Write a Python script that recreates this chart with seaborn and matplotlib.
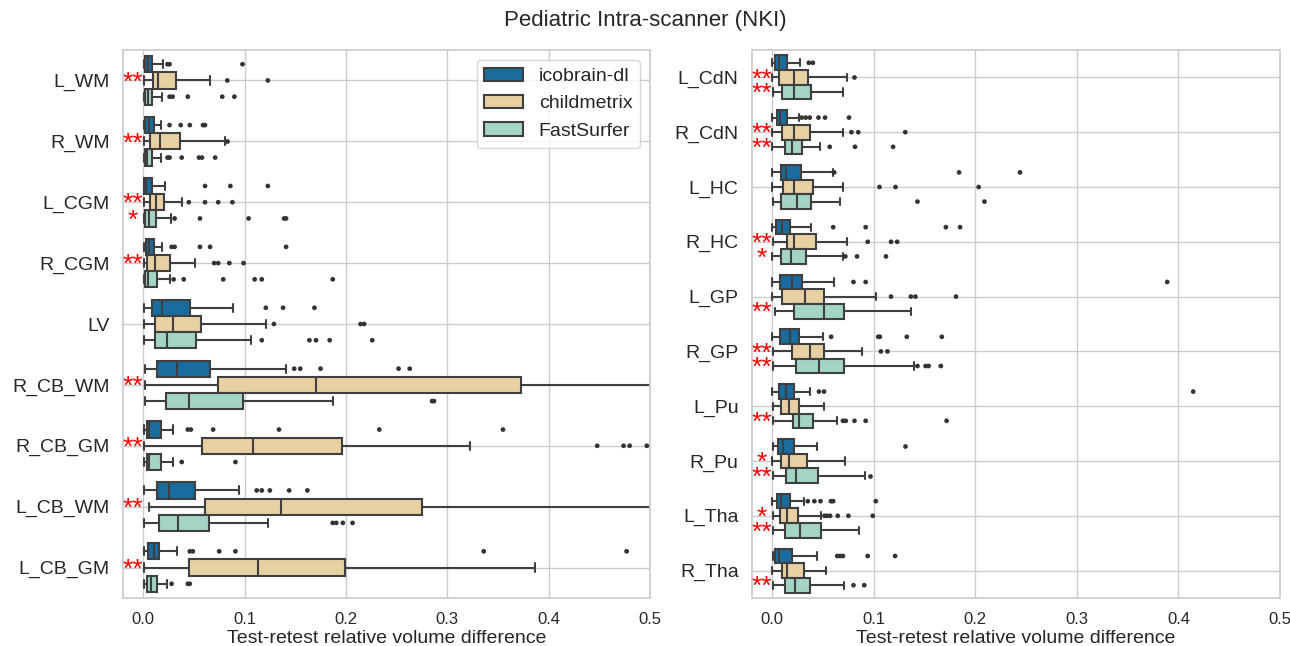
import numpy as np
import pandas as pd
import matplotlib
matplotlib.use("Agg")
import matplotlib.pyplot as plt
import seaborn as sns

# ---- data (lo whisker, q1, median, q3, hi whisker) ----
METHODS = ["icobrain-dl", "childmetrix", "FastSurfer"]
COLORS = ["#1a6b9e", "#e8d0a3", "#a3d4c4"]

left_regions = ["L_WM", "R_WM", "L_CGM", "R_CGM", "LV",
                "R_CB_WM", "R_CB_GM", "L_CB_WM", "L_CB_GM"]

left_ico = [
    (0.001, 0.002, 0.005, 0.0087, 0.020),
    (0.001, 0.002, 0.006, 0.011, 0.018),
    (0.001, 0.0012, 0.003, 0.0087, 0.022),
    (0.001, 0.0025, 0.006, 0.011, 0.019),
    (0.001, 0.0083, 0.019, 0.0465, 0.089),
    (0.0017, 0.014, 0.0336, 0.066, 0.141),
    (0.001, 0.0033, 0.006, 0.0174, 0.0295),
    (0.001, 0.0133, 0.0253, 0.0515, 0.095),
    (0.001, 0.005, 0.0104, 0.016, 0.033),
]
left_ico_out = [
    [0.024, 0.026, 0.098],
    [0.026, 0.037, 0.046, 0.059, 0.061],
    [0.061, 0.086, 0.123],
    [0.028, 0.031, 0.056, 0.066, 0.141],
    [0.121, 0.138, 0.169],
    [0.149, 0.155, 0.175, 0.252, 0.263],
    [0.044, 0.047, 0.069, 0.134, 0.233, 0.355],
    [0.112, 0.117, 0.125, 0.144, 0.162],
    [0.046, 0.049, 0.075, 0.091, 0.336, 0.477],
]
left_child = [
    (0.001, 0.0095, 0.015, 0.032, 0.066),
    (0.001, 0.0066, 0.0166, 0.036, 0.081),
    (0.001, 0.0066, 0.0125, 0.021, 0.0386),
    (0.001, 0.0037, 0.012, 0.0266, 0.051),
    (0.001, 0.012, 0.029, 0.057, 0.121),
    (0.0017, 0.0734, 0.1705, 0.373, 0.56),
    (0.001, 0.0577, 0.1087, 0.196, 0.3224),
    (0.0054, 0.0606, 0.1357, 0.2755, 0.56),
    (0.001, 0.0456, 0.1133, 0.199, 0.387),
]
left_child_out = [
    [0.083, 0.123],
    [0.083],
    [0.045, 0.061, 0.074, 0.088],
    [0.070, 0.074, 0.085, 0.099],
    [0.129, 0.2145, 0.218],
    [],
    [0.448, 0.474, 0.480, 0.497],
    [],
    [],
]
left_fast = [
    (0.001, 0.002, 0.0046, 0.0087, 0.019),
    (0.001, 0.0017, 0.004, 0.0083, 0.0174),
    (0.001, 0.0017, 0.006, 0.0125, 0.027),
    (0.001, 0.0017, 0.005, 0.0133, 0.026),
    (0.001, 0.0112, 0.0237, 0.052, 0.106),
    (0.0021, 0.0224, 0.0448, 0.0983, 0.187),
    (0.001, 0.0037, 0.0062, 0.0174, 0.0295),
    (0.001, 0.016, 0.0344, 0.0647, 0.123),
    (0.001, 0.0037, 0.008, 0.0137, 0.023),
]
left_fast_out = [
    [0.026, 0.029, 0.044, 0.078, 0.090],
    [0.024, 0.026, 0.038, 0.055, 0.058, 0.071],
    [0.031, 0.056, 0.104, 0.139, 0.141],
    [0.030, 0.040, 0.079, 0.110, 0.117, 0.187],
    [0.117, 0.164, 0.1705, 0.184, 0.226],
    [0.285, 0.287],
    [0.038, 0.091],
    [0.187, 0.1905, 0.197, 0.2066],
    [0.028, 0.044, 0.046],
]
left_star_child = ["**", "**", "**", "**", "", "**", "**", "**", "**"]
left_star_fast = ["", "", "*", "", "", "", "", "", ""]

right_regions = ["L_CdN", "R_CdN", "L_HC", "R_HC", "L_GP",
                 "R_GP", "L_Pu", "R_Pu", "L_Tha", "R_Tha"]

right_ico = [
    (0.0, 0.0028, 0.0063, 0.0142, 0.027),
    (0.0, 0.005, 0.0075, 0.015, 0.026),
    (0.0, 0.0083, 0.0134, 0.0285, 0.0597),
    (0.0, 0.004, 0.0095, 0.0174, 0.038),
    (0.0, 0.0075, 0.0194, 0.0297, 0.061),
    (0.0, 0.0075, 0.017, 0.026, 0.050),
    (0.0, 0.0063, 0.0134, 0.0214, 0.0372),
    (0.0008, 0.0055, 0.0103, 0.0214, 0.0439),
    (0.0, 0.0044, 0.0087, 0.017, 0.031),
    (0.0004, 0.0032, 0.0071, 0.0194, 0.0439),
]
right_ico_out = [
    [0.036, 0.040],
    [0.029, 0.033, 0.037, 0.0455, 0.052, 0.0756],
    [0.061, 0.184, 0.244],
    [0.060, 0.092, 0.171, 0.185],
    [0.080, 0.092, 0.389],
    [0.058, 0.1044, 0.106, 0.1325, 0.167],
    [0.046, 0.051, 0.4146],
    [0.131],
    [0.035, 0.0415, 0.0475, 0.0578, 0.060, 0.102],
    [0.064, 0.0668, 0.0696, 0.094, 0.121],
]
right_child = [
    (0.0, 0.007, 0.0214, 0.0348, 0.0736),
    (0.0, 0.0095, 0.0214, 0.0368, 0.070),
    (0.0, 0.011, 0.0214, 0.040, 0.070),
    (0.0004, 0.015, 0.0214, 0.0427, 0.0736),
    (0.0, 0.0099, 0.0324, 0.051, 0.1025),
    (0.0012, 0.0198, 0.0368, 0.0514, 0.0886),
    (0.0004, 0.009, 0.0162, 0.0265, 0.0514),
    (0.0, 0.0087, 0.0166, 0.0344, 0.072),
    (0.0012, 0.0079, 0.0142, 0.0253, 0.048),
    (0.0, 0.0095, 0.015, 0.031, 0.0526),
]
right_child_out = [
    [0.0807],
    [0.078, 0.0847, 0.131],
    [0.1056, 0.1214, 0.2033],
    [0.094, 0.117, 0.123],
    [0.117, 0.1365, 0.141, 0.181],
    [0.107, 0.1135],
    [],
    [],
    [0.0514, 0.054, 0.057, 0.0645, 0.075, 0.099],
    [],
]
right_fast = [
    (0.0004, 0.0099, 0.0218, 0.0384, 0.070),
    (0.0, 0.013, 0.0198, 0.029, 0.047),
    (0.0004, 0.009, 0.0245, 0.038, 0.0668),
    (0.0, 0.0087, 0.018, 0.0336, 0.070),
    (0.0024, 0.0214, 0.0514, 0.0704, 0.1365),
    (0.0008, 0.023, 0.0459, 0.0704, 0.140),
    (0.0008, 0.0206, 0.0265, 0.040, 0.0637),
    (0.0004, 0.0134, 0.023, 0.0455, 0.0914),
    (0.0008, 0.0123, 0.0273, 0.0483, 0.085),
    (0.0004, 0.0123, 0.0225, 0.0376, 0.0708),
]
right_fast_out = [
    [],
    [0.0566, 0.0815, 0.119],
    [0.143, 0.209],
    [0.072, 0.0835, 0.112],
    [],
    [0.143, 0.151, 0.154, 0.166],
    [0.0696, 0.0724, 0.081, 0.092, 0.1717],
    [0.096],
    [],
    [0.080, 0.0906],
]
right_star_child = ["**", "**", "", "**", "", "**", "", "*", "*", ""]
right_star_fast = ["**", "**", "", "*", "**", "**", "**", "**", "**", "**"]

X_TICKS = [0.0, 0.1, 0.2, 0.3, 0.4, 0.5]


def to_long(regions, per_method):
    rows = []
    for method, lists in zip(METHODS, per_method):
        for region, vals in zip(regions, lists):
            for v in vals:
                rows.append((region, method, v))
    return pd.DataFrame(rows, columns=["region", "method", "value"])


def draw_panel(ax, regions, stats, outliers, star_child, star_fast, legend):
    box_df = to_long(regions, stats)
    out_df = to_long(regions, outliers)
    # five numbers per box -> quartiles are exact, whiskers reach min/max
    sns.boxplot(data=box_df, x="value", y="region", hue="method",
                order=regions, hue_order=METHODS, palette=COLORS,
                whis=(0, 100), saturation=1, linecolor="#3f3f3f",
                linewidth=1.5, width=0.8, showfliers=False,
                legend=legend, ax=ax)
    sns.stripplot(data=out_df, x="value", y="region", hue="method",
                  order=regions, hue_order=METHODS,
                  palette={m: "#333333" for m in METHODS},
                  dodge=True, jitter=False, size=3.4, linewidth=0,
                  legend=False, ax=ax)
    # significance markers
    for i, (sc, sf) in enumerate(zip(star_child, star_fast)):
        for txt, off in ((sc, 0.0), (sf, 0.8 / 3)):
            if txt:
                ax.annotate(txt, xy=(-0.0105, i + off), xytext=(0, -6.5),
                            textcoords="offset points", ha="center",
                            va="baseline", color="red", fontsize=19)
    ax.grid(True, axis="y")
    ax.set_xlim(-0.02, 0.5)
    ax.set_xticks(X_TICKS)
    ax.set_xticklabels([f"{t:.1f}" for t in X_TICKS])
    ax.tick_params(axis="x", labelsize=12, pad=4)
    ax.tick_params(axis="y", labelsize=14)
    ax.set_xlabel("Test-retest relative volume difference", fontsize=14,
                  labelpad=2)
    ax.set_ylabel("")


sns.set_theme(style="whitegrid")
plt.rcParams["font.family"] = ["Liberation Sans", "DejaVu Sans"]

fig = plt.figure(figsize=(12.9, 6.46), dpi=100)
ax1 = fig.add_axes([0.0953, 0.0743, 0.4085, 0.8483])
ax2 = fig.add_axes([0.5829, 0.0743, 0.4093, 0.8483])

draw_panel(ax1, left_regions, [left_ico, left_child, left_fast],
           [left_ico_out, left_child_out, left_fast_out],
           left_star_child, left_star_fast, legend=True)
draw_panel(ax2, right_regions, [right_ico, right_child, right_fast],
           [right_ico_out, right_child_out, right_fast_out],
           right_star_child, right_star_fast, legend=False)

sns.move_legend(ax1, "upper right", title=None, fontsize=14)

fig.suptitle("Pediatric Intra-scanner (NKI)", fontsize=16, y=0.985)

fig.savefig("out.png", dpi=100)
